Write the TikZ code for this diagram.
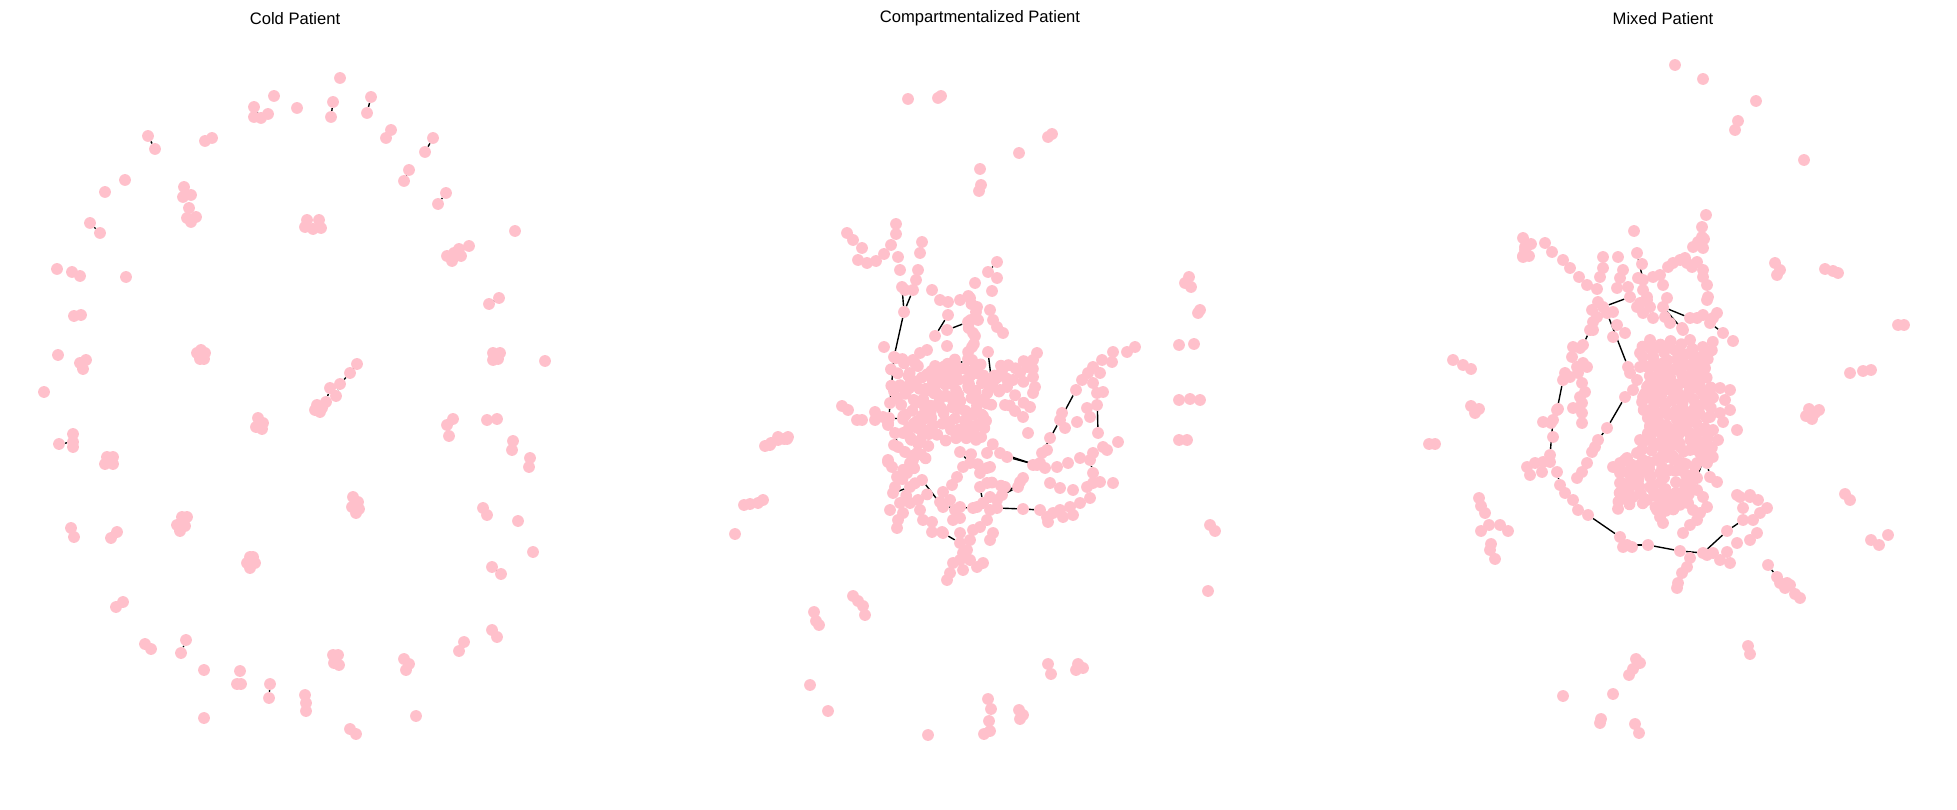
\documentclass[tikz,border=0pt]{standalone}
\usepackage{fontspec}
\setmainfont{Liberation Sans}
\pgfdeclarelayer{bg}
\pgfsetlayers{bg,main}
\definecolor{nodepink}{RGB}{255,192,203}
\tikzset{
  dot/.style={circle,fill=nodepink,draw=none,minimum size=0.30cm,inner sep=0pt},
  link/.style={black,line width=1pt},
  ptitle/.style={font=\fontsize{12}{14}\selectfont,text=black}
}
\begin{document}
\begin{tikzpicture}[x=0.0254cm,y=-0.0254cm]
\useasboundingbox (0,0) rectangle (1957,810);
% titles
\node[ptitle] (t1) at (295,18.5) {Cold Patient};
\node[ptitle] (t2) at (980,18.5) {Compartmentalized Patient};
\node[ptitle] (t3) at (1663,18.5) {Mixed Patient};

% ---------------- Cold patient ----------------
\foreach [count=\i] \x/\y in {340/78,274/96,297/108,391/130,386/138,205/141,212/138,125/180,105/192,
 184/187,183/197,191/195,189/208,187/218,196/217,191/222,
 307/220,319/220,305/227,313/229,321/228,515/231,447/256,452/261,461/256,454/253,
 57/269,72/272,80/276,126/277,74/316,81/315,58/355,80/363,86/360,83/369,44/392,
 197/353,205/353,200/359,204/359,201/350,73/434,73/447,107/457,113/457,105/464,113/464,
 258/418,256/427,262/429,263/423,71/528,74/537,117/532,111/538,
 182/517,187/517,177/525,185/526,180/531,250/557,253/557,247/563,255/563,250/568,
 123/602,116/607,322/408,315/410,320/412,493/353,500/353,493/360,498/359,545/361,
 453/419,447/425,449/436,487/420,497/419,513/441,512/450,530/458,529/467,
 353/497,358/502,352/507,359/509,356/513,483/508,487/515,518/521,533/552,
 492/630,497/637,464/642,459/651,404/659,406/670,409/664,416/716,
 333/655,338/655,334/663,339/665,305/695,306/703,306/711,350/729,356/734,
 240/671,241/684,237/684,204/670,204/718,145/644,151/649,254/117,268/114}
 {\node[dot] (cold\i) at (\x,\y) {};}
\node[dot] (ca1) at (371,97) {};  \node[dot] (ca2) at (367,113) {};
\node[dot] (cb1) at (333,102) {}; \node[dot] (cb2) at (331,117) {};
\node[dot] (cc1) at (433,138) {}; \node[dot] (cc2) at (425,152) {};
\node[dot] (cd1) at (409,170) {}; \node[dot] (cd2) at (404,181) {};
\node[dot] (ce1) at (446,193) {}; \node[dot] (ce2) at (438,204) {};
\node[dot] (cf1) at (148,136) {}; \node[dot] (cf2) at (155,149) {};
\node[dot] (cg1) at (90,223) {};  \node[dot] (cg2) at (100,233) {};
\node[dot] (ch1) at (59,444) {};  \node[dot] (ch2) at (73,442) {};
\node[dot] (ci1) at (357,364) {}; \node[dot] (ci2) at (350,373) {};
\node[dot] (ci3) at (340,384) {}; \node[dot] (ci4) at (330,388) {};
\node[dot] (ci5) at (336,396) {}; \node[dot] (ci6) at (326,402) {};
\node[dot] (ci7) at (317,405) {};
\node[dot] (cj1) at (492,567) {}; \node[dot] (cj2) at (501,574) {};
\node[dot] (ck1) at (489,304) {}; \node[dot] (ck2) at (499,298) {};
\node[dot] (cl1) at (459,249) {}; \node[dot] (cl2) at (469,246) {};
\node[dot] (cm1) at (254,107) {}; \node[dot] (cm2) at (261,118) {};
\node[dot] (cn1) at (270,684) {}; \node[dot] (cn2) at (269,698) {};
\node[dot] (co1) at (181,653) {}; \node[dot] (co2) at (186,640) {};
\begin{pgfonlayer}{bg}
\foreach \a/\b in {ca1/ca2,cb1/cb2,cc1/cc2,cd1/cd2,ce1/ce2,cf1/cf2,cg1/cg2,ch1/ch2,
  ci1/ci2,ci2/ci3,ci3/ci5,ci4/ci6,ci6/ci7,cj1/cj2,ck1/ck2,cl1/cl2,cm1/cm2,cn1/cn2,co1/co2}
  {\draw[link] (\a) -- (\b);}
\end{pgfonlayer}

% ---------------- Compartmentalized patient ----------------
\foreach [count=\i] \x/\y in {908/99,938/98,941/96,1048/137,1052/134,1019/153,980/169,981/185,979/191,
 765/446,771/443,778/440,784/439,788/437,744/505,750/504,758/503,763/500,735/534,
 814/612,816/621,819/625,810/685,828/711,853/596,858/601,863/606,865/615,
 928/735,988/699,991/709,989/721,984/734,990/731,1019/710,1023/715,1020/719,
 1048/664,1051/674,1078/664,1083/668,1076/670,
 1208/591,1210/525,1215/531,1179/440,1187/440,1179/400,1190/399,1200/400,1179/345,1194/344,
 1189/277,1191/287,1185/283,1200/310,1198/313,
 922/242,920/253,918/270,916/280,898/257,900/270,905/290,
 997/262,988/272,997/278,992/291,975/283,932/290,940/300,948/302,960/300,970/298,977/307,978/320,
 990/310,993/320,1003/333,997/327,947/346,
 973/333,972/347,884/347,913/360,920/353,927/350,
 1037/353,1033/360,1027/367,1020/373,1013/380,1007/387,1000/390,1033/377,1035/387,1033/393,
 1030/407,1023/417,1028/433,
 1135/347,1127/352,1113/352,1112/362,1102/360,1093/367,1100/373,1088/373,1082/380,1093/383,
 1103/392,1097/405,1087/408,1077/422,1065/428,1062/413,1050/438,1047/450,1040/463,1090/417,
 1103/447,1118/442,1107/450,
 1093/453,1080/458,1068/463,1057/467,1033/465,1023/478,1050/483,1060/488,1073/490,
 1087/487,1093/483,1100/482,1113/483,1090/498,1080/503,1070/507,1060/510,1053/513,1047/517,
 1048/522,1063/517,1073/515,1005/487,
 987/453,990/467,980/473,987/483,990/497,977/507,990/510,987/520,980/527,993/533,990/540,
 973/530,970/540,967/550,963/553,960/560,970/560,983/563,977/567,963/570,953/563,950/573,947/580,
 960/533,955/510,960/518,953/520,942/532,932/532,932/522,923/520,920/510,918/500,910/503,
 900/503,903/513,898/520,897/528,890/510,940/502,950/500,960/507,
 862/420,875/420,883/417,888/423,895/433,898/447,888/460,892/467,897/477,895/487,893/493,
 910/487,907/473,913/460,917/453,903/433,910/437,943/492,952/485,957/477,963/467,
 842/406,848/410,857/420,875/412,888/425,894/445,888/462,770/445,778/437,787/439,
 847/233,853/240,862/248,858/260,867/263,876/261,884/254,891/245,896/234,896/224}
 {\node[dot] (comp\i) at (\x,\y) {};}
% central blob (slightly jittered rows)
\foreach \y/\xs in {362/{893,905,918,932,945,958,1000,1012,1025},
 372/{888,900,912,925,938,950,962,980,992,1005,1018,1030},
 382/{892,904,916,930,944,956,968,985,998,1010,1022},
 392/{898,910,922,935,948,960,972,990,1003,1015},
 402/{900,915,928,942,955,968,980,995,1010,1020},
 412/{905,918,932,945,958,970,985},
 422/{910,922,935,950,965,978,990},
 432/{915,928,940,962,975,988},
 442/{908,920,932,965,980,993},
 452/{912,925,975},
 462/{915,928,980},
 472/{903,918,985},
 482/{905,918,988,1000},
 492/{910,925}}
 {\foreach \x in \xs {\node[dot] (blob-\x-\y) at ({\x+4*sin(\x*7+\y*3)},{\y+4*cos(\x*5+\y*9)}) {};}}
% denser core of the compartmentalized network
\foreach \y in {367,377,...,437}
 {\foreach \x in {906,917,...,990}
   {\node[dot] (core-\x-\y) at ({\x+5*cos(\x*3+\y*7)},{\y+4*sin(\x*9+\y*2)}) {};}}
\foreach \y in {296,304,...,392}
 {\node[dot] (col-\y) at ({972+4*sin(\y*13)},\y) {};}
\node[dot] (k1) at (904,312) {};  \node[dot] (k2) at (902,287) {};
\node[dot] (k3) at (913,290) {};  \node[dot] (k4) at (894,357) {};
\node[dot] (k5) at (890,403) {};  \node[dot] (k6) at (889,418) {};
\node[dot] (k7) at (903,419) {};
\node[dot] (k8) at (935,336) {};  \node[dot] (k9) at (948,315) {};
\node[dot] (k10) at (947,330) {}; \node[dot] (k11) at (968,322) {};
\node[dot] (k12) at (988,352) {}; \node[dot] (k13) at (992,385) {};
\node[dot] (k14) at (922,480) {}; \node[dot] (k15) at (943,507) {};
\node[dot] (k16) at (973,508) {};
\node[dot] (k17) at (943,533) {}; \node[dot] (k18) at (960,543) {};
\node[dot] (k19) at (960,452) {}; \node[dot] (k20) at (970,463) {};
\node[dot] (k21) at (1007,457) {}; \node[dot] (k22) at (1037,465) {};
\node[dot] (k23) at (997,500) {}; \node[dot] (k24) at (1020,482) {};
\node[dot] (k25) at (997,508) {}; \node[dot] (k26) at (1023,509) {};
\node[dot] (k27) at (1040,510) {};
\node[dot] (k28) at (1042,453) {}; \node[dot] (k29) at (1060,420) {};
\node[dot] (k30) at (1076,390) {};
\node[dot] (k31) at (1097,393) {}; \node[dot] (k32) at (1098,433) {};
\node[dot] (k33) at (1090,460) {}; \node[dot] (k34) at (1093,473) {};
\node[dot] (k35) at (905,452) {}; \node[dot] (k36) at (910,463) {};
\node[dot] (k39) at (980,487) {}; \node[dot] (k40) at (983,503) {};
\node[dot] (k41) at (1002,495) {}; \node[dot] (k42) at (1018,487) {};
\node[dot] (k43) at (1000,453) {}; \node[dot] (k44) at (1045,468) {};
\node[dot] (k45) at (955,365) {}; \node[dot] (k46) at (968,359) {};
\node[dot] (k47) at (1005,405) {}; \node[dot] (k48) at (1015,411) {};
\begin{pgfonlayer}{bg}
\foreach \a/\b in {k1/k2,k1/k3,k1/k4,k4/k5,k5/k6,k6/k7,k8/k9,k10/k11,k12/k13,k14/k15,k15/k16,
  k17/k18,k19/k20,k21/k22,k23/k24,k25/k26,k26/k27,k28/k29,k29/k30,k31/k32,k33/k34,k35/k36,
  k39/k40,k41/k42,k43/k44,k45/k46,k47/k48,comp195/comp196,comp196/comp197,comp197/comp198,
  comp198/comp199,comp199/comp200,comp193/comp194,comp65/comp66}
  {\draw[link] (\a) -- (\b);}
\end{pgfonlayer}

% ---------------- Mixed patient ----------------
\foreach [count=\i] \x/\y in {1675/65,1703/79,1756/101,1738/121,1735/130,1804/160,
 1523/238,1525/250,1529/256,1523/256,1531/244,1825/269,1833/271,1838/273,1898/325,1904/325,
 1850/373,1863/371,1871/370,1809/409,1815/413,1812/419,1806/416,1819/410,1845/494,1850/500,
 1871/540,1888/535,1879/545,1780/583,1785/588,1790/585,1795/594,1800/598,1748/646,1750/654,
 1636/659,1640/663,1633/669,1629/675,1613/694,1601/719,1600/723,1635/724,1639/733,1563/696,
 1453/360,1463/365,1471/369,1471/406,1479/409,1475/413,1429/444,1435/444,
 1479/498,1481/506,1485/513,1489/525,1481/531,1490/550,1495/559,1491/544,1500/525,1508/531,
 1706/215,1702/227,1702/237,1698/242,1704/239,1693/247,1703/248,
 1685/258,1680/260,1673/263,1668/267,1687/263,1697/262,1692/267,1703/270,
 1708/297,1707/300,1703/315,1717/313,1713/318,1697/318,1733/341,
 1634/231,1642/264,1638/278,1653/277,1660/275,1663/285,1667/298,
 1643/290,1647/297,1640/303,1650/307,1643/313,1653/318,1647/300,1637/307,
 1665/317,1670/323,1682/328,1693/353,1678/353,
 1525/247,1523/257,1545/243,1552/252,1563/260,1570/268,1579/277,1587/285,1597/289,1603/268,
 1603/257,1600/277,1618/257,1623/270,1620/278,1628/287,1617/288,
 1598/302,1592/310,1597/317,1593/322,1593/330,1613/312,1617/325,1613/337,1625/333,
 1775/263,1780/270,1777/275,
 1573/347,1580/348,1572/357,1577/367,1583/363,1587/367,1565/373,1570/377,1582/383,1585/392,
 1580/397,1582/403,1573/408,1582/413,1582/423,1578/373,
 1558/409,1543/422,1551/423,1553/437,1550/462,1543/462,1527/467,1535/463,1530/475,1542/472,
 1565/493,1573/500,1578/510,1595/447,1592/452,1587/463,1582/472,1577/478,
 1623/547,1632/547,1707/555,1713/553,1720/560,1727/552,1730/563,1737/543,1750/540,1757/533,
 1753/520,1760/513,1767/508,1750/497,1740/497,1743/508,1758/500,
 1690/558,1687/567,1682/573,1678/583,1677/588,1787/583,
 1650/340,1657/347,1653/357,1663/363,1650/367,1660/373,1670/377,1677/387,1683/380,1667/387,
 1657/387,1647/387,1637/380,1630/373,1633/390,1643/397,1653/400,1663/403,1673/400,1683/397,
 1692/387,1700/390,1710/390,1720/388,1730/390,1650/410,1657/417,1667/413,1677/417,1687/413,
 1697/407,1707/403,1710/417,1720/413,1723/422,1650/427,1660/430,1670/433,1680/430,1690/433,
 1697/440,1707/433,1713/430,1718/440,1650/440,1660/443,1670/447,1680/447,1690/450,1700/453,
 1708/455,1710/447,1640/353,1640/367,1670/347,1680/365,1700/370,1690/365,
 1613/467,1620/463,1627/458,1637/453,1643/460,1650/463,1657/460,1667/457,1677/460,1683/463,
 1620/473,1630/473,1640/473,1650/477,1660/473,1670/470,1680/470,1620/483,1630/487,1640/493,
 1647/500,1633/497,1653/490,1663/493,1673/497,1660/503,1670/503,1680/500,1687/493,1690/483,
 1717/482,1697/490,1703/497,1707/507,1700/513,1697/520,1690/525,1683/533,1693/510,
 1660/517,1663/523,1657/510,1660/483,1640/440,1730/410,1725/400,1737/430}
 {\node[dot] (mix\i) at (\x,\y) {};}
% denser core of the mixed network
\foreach \y in {345,354,...,455}
 {\foreach \x in {1646,1655,...,1715}
   {\node[dot] (mcore-\x-\y) at ({\x+4*cos(\x*3+\y*7)},{\y+4*sin(\x*9+\y*2)}) {};}}
\foreach \y in {462,471,...,510}
 {\foreach \x in {1622,1632,...,1700}
   {\node[dot] (mlow-\x-\y) at ({\x+4*sin(\x*5+\y*3)},{\y+4*cos(\x*7+\y*4)}) {};}}
\node[dot] (m1) at (1590,330) {};  \node[dot] (m2) at (1583,345) {};
\node[dot] (m3) at (1563,380) {};  \node[dot] (m4) at (1557,410) {};
\node[dot] (m5) at (1553,420) {};  \node[dot] (m6) at (1550,455) {};
\node[dot] (m7) at (1557,472) {};  \node[dot] (m8) at (1560,485) {};
\node[dot] (m9) at (1588,515) {};  \node[dot] (m10) at (1620,537) {};
\node[dot] (m11) at (1627,545) {}; \node[dot] (m12) at (1648,545) {};
\node[dot] (m13) at (1680,551) {}; \node[dot] (m14) at (1703,553) {};
\node[dot] (m15) at (1727,531) {}; \node[dot] (m16) at (1743,520) {};
\node[dot] (m17) at (1607,313) {}; \node[dot] (m18) at (1628,367) {};
\node[dot] (m19) at (1625,397) {}; \node[dot] (m20) at (1607,428) {};
\node[dot] (m21) at (1598,440) {};
\node[dot] (m22) at (1690,340) {}; \node[dot] (m23) at (1702,377) {};
\node[dot] (m24) at (1603,307) {}; \node[dot] (m25) at (1630,297) {};
\node[dot] (m28) at (1637,253) {}; \node[dot] (m29) at (1643,280) {};
\node[dot] (m30) at (1663,307) {}; \node[dot] (m31) at (1683,330) {};
\node[dot] (m32) at (1690,318) {};
\node[dot] (m33) at (1703,277) {}; \node[dot] (m34) at (1707,285) {};
\node[dot] (m36) at (1710,323) {}; \node[dot] (m37) at (1723,333) {};
\node[dot] (m38) at (1697,463) {}; \node[dot] (m39) at (1687,480) {};
\node[dot] (m40) at (1703,460) {}; \node[dot] (m41) at (1697,478) {};
\node[dot] (m42) at (1707,463) {}; \node[dot] (m43) at (1710,477) {};
\node[dot] (m44) at (1650,487) {}; \node[dot] (m45) at (1663,500) {};
\node[dot] (m46) at (1737,495) {}; \node[dot] (m47) at (1750,495) {};
\node[dot] (m48) at (1768,565) {}; \node[dot] (m49) at (1777,577) {};
\begin{pgfonlayer}{bg}
\foreach \a/\b in {m1/m2,m3/m4,m5/m6,m7/m8,m9/m10,m10/m11,m11/m12,m12/m13,m13/m14,m14/m15,m15/m16,
  m17/m18,m19/m20,m20/m21,m22/m23,m24/m25,m28/m29,m30/m31,m30/m32,m33/m34,m36/m37,
  m38/m39,m40/m41,m42/m43,m44/m45,m46/m47,m48/m49}
  {\draw[link] (\a) -- (\b);}
\end{pgfonlayer}
\end{tikzpicture}
\end{document}
